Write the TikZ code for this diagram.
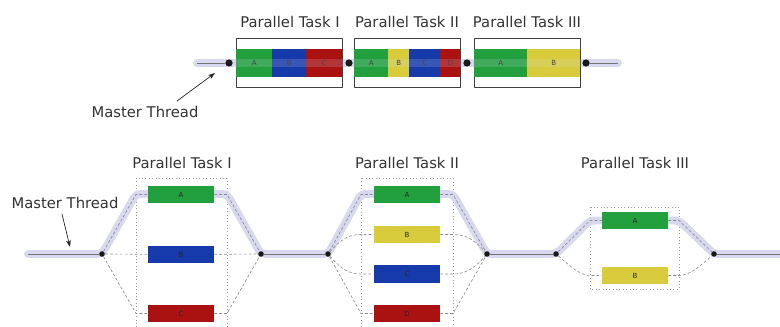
\documentclass[tikz,border=0pt]{standalone}
\usepackage{fontspec}
\setmainfont{DejaVu Sans}
\usetikzlibrary{arrows.meta}
\definecolor{lav}{RGB}{216,216,238}
\definecolor{tgreen}{RGB}{34,160,62}
\definecolor{tblue}{RGB}{22,58,170}
\definecolor{tred}{RGB}{170,18,18}
\definecolor{tyellow}{RGB}{216,204,60}
\tikzset{
  title/.style={font=\fontsize{10.5}{12}\selectfont, text=black!80, inner sep=0pt},
  seg/.style={inner sep=0pt, minimum height=0.7cm, anchor=west, font=\fontsize{5}{6}\selectfont, text=black!85},
  frame/.style={draw=black!75, line width=0.5pt, inner sep=0pt, minimum width=2.65cm, minimum height=1.225cm},
  task/.style={inner sep=0pt, minimum width=1.65cm, minimum height=0.425cm, font=\fontsize{5}{6}\selectfont, text=black!85},
  knot/.style={circle, fill=black!90, inner sep=0pt, minimum size=#1},
  knot/.default=0.14cm,
  band/.style={lav, line width=5.6pt, line cap=round, line join=round},
  core/.style={black!55, line width=0.7pt},
  branch/.style={black!45, line width=0.45pt, dash pattern=on 2pt off 1.5pt},
  group/.style={black!40, line width=0.4pt, dotted},
  pointer/.style={-{Stealth[length=5pt,width=3.5pt]}, black!85, line width=0.5pt}
}
\begin{document}
\begin{tikzpicture}[x=0.025cm, y=-0.025cm, line join=round]
\useasboundingbox (0,0) rectangle (780,327);
% oben: serielle Ausfuehrung
\draw[band] (197,63) -- (618,63);
\node[frame] (box1) at (289,62.5) {};
\node[frame] (box2) at (407,62.5) {};
\node[frame] (box3) at (527,62.5) {};
\foreach \xa/\xb/\col/\lbl/\nm in {236/272/tgreen/A/s1a, 272/306/tblue/B/s1b, 306/342/tred/C/s1c,
    354/388/tgreen/A/s2a, 388/409/tyellow/B/s2b, 409/440/tblue/C/s2c, 440/460/tred/D/s2d,
    474/527/tgreen/A/s3a, 527/580/tyellow/B/s3b}
  \node[seg, fill=\col, minimum width={(\xb-\xa)*0.025cm}] (\nm) at (\xa,63) {\lbl};
\draw[band, opacity=0.18] (236,63) -- (580,63);
\node[knot=0.18cm] (d1) at (229,63) {};
\node[knot=0.18cm] (d2) at (349,63) {};
\node[knot=0.18cm] (d3) at (467,63) {};
\node[knot=0.18cm] (d4) at (586,63) {};
\coordinate (a0) at (197,63);
\coordinate (a5) at (618,63);
\draw[core] (a0) -- (d1);
\draw[core] (d4) -- (a5);
\node[title] (h1) at (290,22) {Parallel Task I};
\node[title] (h2) at (407,22) {Parallel Task II};
\node[title] (h3) at (527,22) {Parallel Task III};
\node[title] (mt1) at (145,112) {Master Thread};
\coordinate (mt1tail) at (177,101);
\coordinate (mt1tip) at (215,73);
\draw[pointer] (mt1tail) -- (mt1tip);

% unten: Fork-Join
\draw[group] (136,178) rectangle (227,335);
\draw[group] (361,178) rectangle (453,335);
\draw[group] (590,207) rectangle (679,289);
\draw[band, rounded corners=3] (28,254) -- (102,254) -- (136,194) -- (227,194) -- (261,254)
  -- (328,254) -- (361,194) -- (453,194) -- (487,254) -- (556,254) -- (590,220.5)
  -- (679,220.5) -- (714,254) -- (790,254);
\node[knot] (f1) at (102,254) {};
\node[knot] (j1) at (261,254) {};
\node[knot] (f2) at (328,254) {};
\node[knot] (j2) at (487,254) {};
\node[knot] (f3) at (556,254) {};
\node[knot] (j3) at (714,254) {};
\coordinate (b0) at (28,254);
\coordinate (b9) at (790,254);
\draw[core] (b0) -- (f1);
\draw[core] (j1) -- (f2);
\draw[core] (j2) -- (f3);
\draw[core] (j3) -- (b9);

\node[task, fill=tgreen] (p1a) at (181,194.5) {A};
\node[task, fill=tblue] (p1b) at (181,254.5) {B};
\node[task, fill=tred] (p1c) at (181,313.5) {C};
\node[task, fill=tgreen] (p2a) at (407,194.5) {A};
\node[task, fill=tyellow] (p2b) at (407,234.5) {B};
\node[task, fill=tblue] (p2c) at (407,274) {C};
\node[task, fill=tred] (p2d) at (407,313.5) {D};
\node[task, fill=tgreen] (p3a) at (635,220.5) {A};
\node[task, fill=tyellow] (p3b) at (635,275.5) {B};

\draw[branch] (f1) -- (136,194.5) -- (p1a.west);
\draw[branch] (p1a.east) -- (227,194.5) -- (j1);
\draw[branch] (f1) -- (p1b);
\draw[branch] (p1b) -- (j1);
\draw[branch] (f1) -- (136,313.5) -- (p1c.west);
\draw[branch] (p1c.east) -- (227,313.5) -- (j1);

\draw[branch] (f2) -- (361,194.5) -- (p2a.west);
\draw[branch] (p2a.east) -- (453,194.5) -- (j2);
\draw[branch] (f2) .. controls (342,238) and (350,234.5) .. (361,234.5) -- (p2b.west);
\draw[branch] (p2b.east) -- (453,234.5) .. controls (464,234.5) and (473,238) .. (j2);
\draw[branch] (f2) .. controls (342,270) and (350,274) .. (361,274) -- (p2c.west);
\draw[branch] (p2c.east) -- (453,274) .. controls (464,274) and (473,270) .. (j2);
\draw[branch] (f2) -- (361,313.5) -- (p2d.west);
\draw[branch] (p2d.east) -- (453,313.5) -- (j2);

\draw[branch] (f3) -- (590,220.5) -- (p3a.west);
\draw[branch] (p3a.east) -- (679,220.5) -- (j3);
\draw[branch] (f3) .. controls (570,266) and (580,275.5) .. (590,275.5) -- (p3b.west);
\draw[branch] (p3b.east) -- (679,275.5) .. controls (690,275.5) and (700,266) .. (j3);

\node[title] (t1) at (182,163) {Parallel Task I};
\node[title] (t2) at (407,163) {Parallel Task II};
\node[title] (t3) at (635,163) {Parallel Task III};
\node[title] (mt2) at (65,203) {Master Thread};
\coordinate (mt2tail) at (62,214);
\coordinate (mt2tip) at (70,247);
\draw[pointer] (mt2tail) -- (mt2tip);
\end{tikzpicture}
\end{document}
